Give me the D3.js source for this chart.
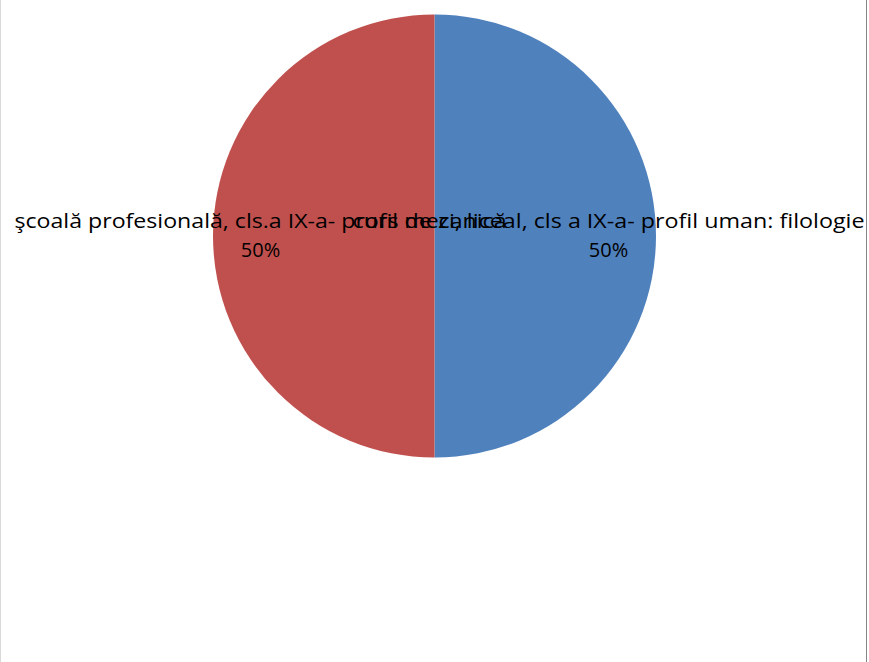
<!DOCTYPE html>
<html>
<head>
<meta charset="utf-8">
<script src="https://cdn.jsdelivr.net/npm/d3@7"></script>
<style>
  html, body { margin: 0; padding: 0; background: #fff; }
  svg { display: block; }
</style>
</head>
<body>
<svg id="chart" width="869" height="662"></svg>
<script>
// Pie slices, in drawing order (clockwise from 12 o'clock)
const categories = [
  "curs de zi, liceal, cls a IX-a- profil uman: filologie",
  "şcoală profesională, cls.a IX-a- profil mecanică"
];
const values = [1, 1];
const colors = ["#4F81BD", "#C0504D"];
// Rendered label widths (px) so the glyph runs match Calibri metrics
const labelWidths = [512, 492];

const svg = d3.select("#chart");
const W = 869, H = 662;
const cx = 434.5, cy = 236, r = 221.5;

// Chart area frame edges
svg.append("line").attr("x1", 0.5).attr("x2", 0.5).attr("y1", 0).attr("y2", H)
  .attr("stroke", "#d9d9d9").attr("stroke-width", 1);
svg.append("line").attr("x1", 866.5).attr("x2", 866.5).attr("y1", 0).attr("y2", H)
  .attr("stroke", "#868686").attr("stroke-width", 1);

const pie = d3.pie().sort(null).value(d => d);
const arcs = pie(values);
const total = d3.sum(values);
const arc = d3.arc().innerRadius(0).outerRadius(r);
const labelArc = d3.arc().innerRadius(174).outerRadius(174);

const g = svg.append("g").attr("transform", `translate(${cx},${cy})`);

g.selectAll("path.slice")
  .data(arcs)
  .join("path")
  .attr("class", "slice")
  .attr("d", arc)
  .attr("fill", (d, i) => colors[i]);

const fmt = d3.format(".0%");
const labels = g.selectAll("g.lbl")
  .data(arcs)
  .join("g")
  .attr("class", "lbl")
  .attr("transform", d => {
    const [x, y] = labelArc.centroid(d);
    return `translate(${x},${y})`;
  });

labels.append("text")
  .attr("text-anchor", "middle")
  .attr("y", -8)
  .attr("font-family", "'Open Sans', 'Noto Sans', sans-serif")
  .attr("font-size", 20)
  .attr("fill", "#000")
  .attr("textLength", (d, i) => labelWidths[i])
  .attr("lengthAdjust", "spacingAndGlyphs")
  .text((d, i) => categories[i]);

labels.append("text")
  .attr("text-anchor", "middle")
  .attr("y", 21)
  .attr("font-family", "'Open Sans', 'Noto Sans', sans-serif")
  .attr("font-size", 20)
  .attr("fill", "#000")
  .text(d => fmt(d.value / total));
</script>
</body>
</html>
